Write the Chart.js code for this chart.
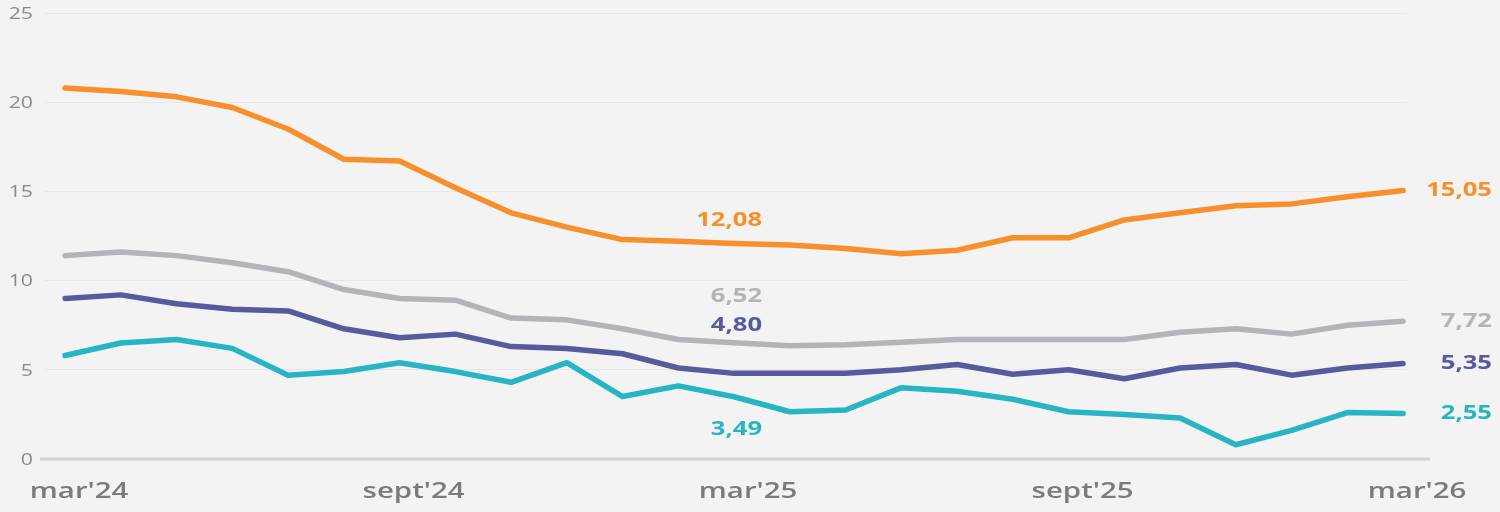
<!DOCTYPE html>
<html>
<head>
<meta charset="utf-8">
<script src="https://cdn.jsdelivr.net/npm/chart.js@4/dist/chart.umd.min.js"></script>
<style>
  html, body { margin: 0; padding: 0; background: #f3f3f4; }
  #wrap { width: 1500px; height: 512px; }
</style>
</head>
<body>
<div id="wrap"><canvas id="chart"></canvas></div>
<script>
// months mar'24 .. mar'26
const months = ["mar'24", "abr'24", "may'24", "jun'24", "jul'24", "ago'24", "sept'24", "oct'24", "nov'24", "dic'24",
  "ene'25", "feb'25", "mar'25", "abr'25", "may'25", "jun'25", "jul'25", "ago'25", "sept'25", "oct'25",
  "nov'25", "dic'25", "ene'26", "feb'26", "mar'26"];
const tickLabels = ["mar'24", "sept'24", "mar'25", "sept'25", "mar'26"];

const orangeVals = [20.8, 20.6, 20.3, 19.7, 18.5, 16.8, 16.7, 15.2, 13.8, 13.0, 12.3, 12.2, 12.08, 12.0, 11.8, 11.5, 11.7, 12.4, 12.4, 13.4, 13.8, 14.2, 14.3, 14.7, 15.05];
const greyVals = [11.4, 11.6, 11.4, 11.0, 10.5, 9.5, 9.0, 8.9, 7.9, 7.8, 7.3, 6.7, 6.52, 6.35, 6.4, 6.55, 6.7, 6.7, 6.7, 6.7, 7.1, 7.3, 7.0, 7.5, 7.72];
const purpleVals = [9.0, 9.2, 8.7, 8.4, 8.3, 7.3, 6.8, 7.0, 6.3, 6.2, 5.9, 5.1, 4.80, 4.8, 4.8, 5.0, 5.3, 4.75, 5.0, 4.5, 5.1, 5.3, 4.7, 5.1, 5.35];
const tealVals = [5.8, 6.5, 6.7, 6.2, 4.7, 4.9, 5.4, 4.9, 4.3, 5.4, 3.5, 4.1, 3.49, 2.65, 2.75, 4.0, 3.8, 3.35, 2.65, 2.5, 2.3, 0.8, 1.6, 2.6, 2.55];

const yTicks = [0, 5, 10, 15, 20, 25];

const series = [
  { name: 'orange', values: orangeVals, color: '#f7902c', midOffset: -23 },
  { name: 'grey', values: greyVals, color: '#b3b3b8', midOffset: -46 },
  { name: 'purple', values: purpleVals, color: '#575a9c', midOffset: -48 },
  { name: 'teal', values: tealVals, color: '#27b5c3', midOffset: 33 }
];

const midIndex = 12;
const fmt = v => v.toFixed(2).replace('.', ',');

// the reference text is drawn a bit wide, so stretch it horizontally
function wideText(ctx, text, x, y, align, sx) {
  ctx.save();
  ctx.translate(x, y);
  ctx.scale(sx, 1);
  ctx.textAlign = align;
  ctx.fillText(text, 0, 0);
  ctx.restore();
}

const textPlugin = {
  id: 'textPlugin',
  beforeDatasetsDraw(chart) {
    const ctx = chart.ctx;
    const ys = chart.scales.y;
    // base line at zero, a little wider than the plot
    ctx.save();
    ctx.strokeStyle = '#d3d3d6';
    ctx.lineWidth = 3;
    ctx.beginPath();
    ctx.moveTo(40, ys.getPixelForValue(0));
    ctx.lineTo(1430, ys.getPixelForValue(0));
    ctx.stroke();
    ctx.restore();
  },
  afterDatasetsDraw(chart) {
    const ctx = chart.ctx;
    const xs = chart.scales.x, ys = chart.scales.y;
    ctx.save();

    // y tick labels
    ctx.font = '17px "Open Sans"';
    ctx.fillStyle = '#8a8a8d';
    ctx.textBaseline = 'middle';
    yTicks.forEach(v => wideText(ctx, String(v), 33, ys.getPixelForValue(v) + 1, 'right', 1.25));

    // x tick labels
    ctx.font = '600 21px "Open Sans"';
    ctx.fillStyle = '#7b7b7e';
    ctx.textBaseline = 'alphabetic';
    tickLabels.forEach(t => wideText(ctx, t, xs.getPixelForValue(months.indexOf(t)) + 14, 498, 'center', 1.4));

    // value labels
    ctx.font = 'bold 20px "Open Sans"';
    ctx.textBaseline = 'middle';
    series.forEach(s => {
      ctx.fillStyle = s.color;
      const xm = xs.getPixelForValue(midIndex);
      wideText(ctx, fmt(s.values[midIndex]), xm + 28, ys.getPixelForValue(s.values[midIndex]) + s.midOffset, 'right', 1.28);
      const last = s.values.length - 1;
      wideText(ctx, fmt(s.values[last]), 1492, ys.getPixelForValue(s.values[last]), 'right', 1.28);
    });
    ctx.restore();
  }
};

new Chart(document.getElementById('chart'), {
  type: 'line',
  data: {
    datasets: series.map(s => ({
      label: s.name,
      data: s.values.map((v, i) => ({ x: i, y: v })),
      borderColor: s.color,
      borderWidth: 5.5,
      pointRadius: 0,
      tension: 0,
      borderCapStyle: 'round',
      borderJoinStyle: 'round'
    }))
  },
  options: {
    responsive: true,
    maintainAspectRatio: false,
    animation: false,
    layout: { padding: { top: 13, right: 93, bottom: 0, left: 0 } },
    plugins: { legend: { display: false }, tooltip: { enabled: false } },
    scales: {
      x: {
        type: 'linear',
        min: -0.36,
        max: 24.07,
        afterFit(scale) { scale.height = 53; },
        grid: { display: false },
        border: { display: false },
        ticks: { display: false }
      },
      y: {
        min: 0,
        max: 25,
        afterBuildTicks(scale) {
          scale.ticks = yTicks.map(v => ({ value: v }));
        },
        afterFit(scale) { scale.width = 45; },
        grid: { color: '#e7e7e9', lineWidth: 1, drawTicks: false },
        border: { display: false },
        ticks: { display: false }
      }
    }
  },
  plugins: [textPlugin]
});
</script>
</body>
</html>
